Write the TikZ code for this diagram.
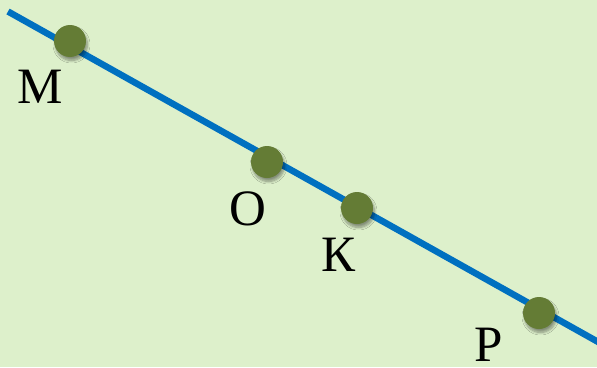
\documentclass[tikz,border=0pt]{standalone}
\usepackage{fontspec}
\setmainfont{Liberation Serif}
\usetikzlibrary{shadows.blur}
\definecolor{bgc}{HTML}{DDF0CB}
\definecolor{linec}{HTML}{0070C0}
\definecolor{dotc}{HTML}{647C35}
\tikzset{
  pt/.style={circle, fill=dotc, minimum size=32pt, inner sep=0pt,
    blur shadow={shadow xshift=1.5pt, shadow yshift=-3.5pt, shadow blur steps=8, shadow blur radius=2.5pt, shadow opacity=40}},
  lbl/.style={font=\fontsize{51}{58}\selectfont, inner sep=0pt, anchor=center}
}
\begin{document}
\begin{tikzpicture}[x=1pt,y=-1pt]
\fill[bgc] (0,0) rectangle (597,367);
\useasboundingbox (0,0) rectangle (597,367);
\coordinate (s) at (8,11.5);
\coordinate (e) at (600,343);
\draw[linec, line width=6.5pt] (s) -- (e);
\node[pt] (m) at (70,41) {};
\node[pt] (o) at (267,162) {};
\node[pt] (k) at (357,208) {};
\node[pt] (p) at (539,313) {};
\node[lbl] (lm) at (40.5,87) {М};
\node[lbl] (lo) at (247.5,208.5) {О};
\node[lbl] (lk) at (338.5,254.5) {К};
\node[lbl] (lp) at (489,344.5) {Р};
\end{tikzpicture}
\end{document}
